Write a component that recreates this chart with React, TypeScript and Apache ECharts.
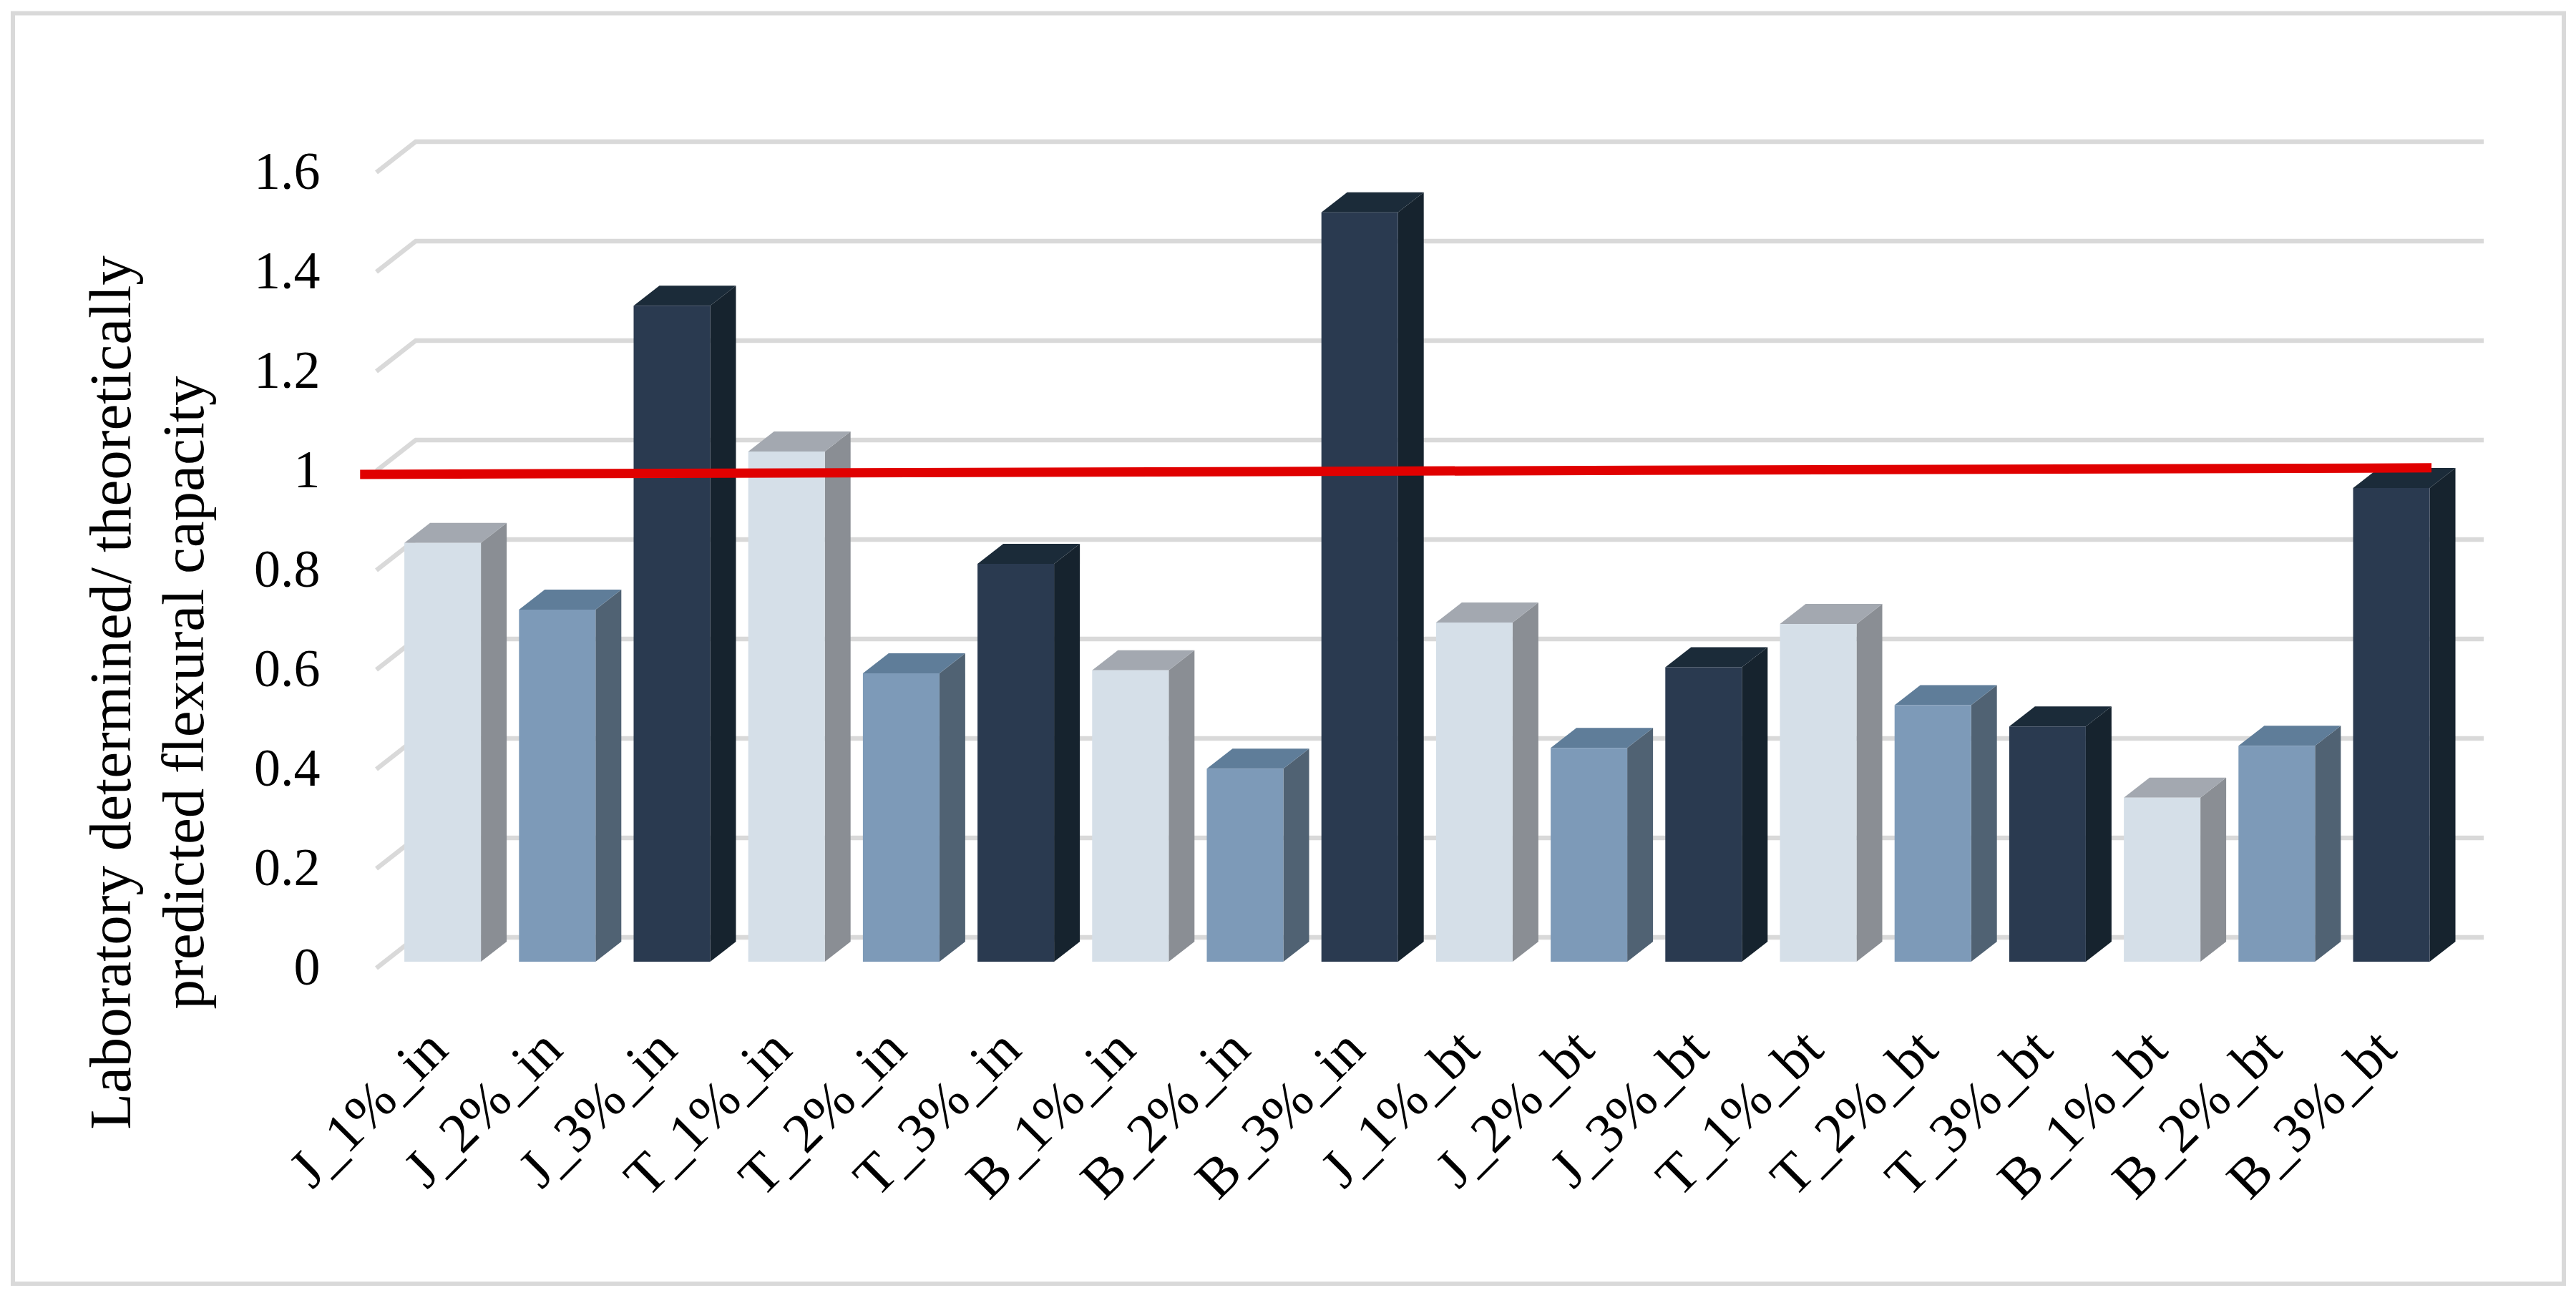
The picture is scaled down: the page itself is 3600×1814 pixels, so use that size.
import React, { useEffect, useRef } from "react";
import * as echarts from "echarts";

const categories = [
  "J_1%_in", "J_2%_in", "J_3%_in", "T_1%_in", "T_2%_in", "T_3%_in", "B_1%_in", "B_2%_in", "B_3%_in",
  "J_1%_bt", "J_2%_bt", "J_3%_bt", "T_1%_bt", "T_2%_bt", "T_3%_bt", "B_1%_bt", "B_2%_bt", "B_3%_bt",
];
const ratios = [
  0.842, 0.708, 1.319, 1.026, 0.58, 0.8, 0.586, 0.388, 1.507,
  0.682, 0.43, 0.592, 0.679, 0.516, 0.473, 0.33, 0.434, 0.9525,
];
const gridValues = [0, 0.2, 0.4, 0.6, 0.8, 1, 1.2, 1.4, 1.6];
const referenceLine = [-0.72, 0.98, 17.35, 0.993];
const axisTitle = "Laboratory determined/ theoretically\npredicted flexural capacity";

const frontColors = ["#d5dfe8", "#7d9ab8", "#2a3a50"];
const sideColors = ["#8a8e94", "#506273", "#16232e"];
const topColors = ["#a3a8b0", "#5f7d99", "#1b2b39"];

const FONT = "'Liberation Serif', serif";

export default function App() {
  const ref = useRef<HTMLDivElement>(null);
  useEffect(() => {
    document.body.style.margin = "0";
    const chart = echarts.init(ref.current!, undefined, { renderer: "svg" });
    chart.setOption({
      animation: false,
      backgroundColor: "#ffffff",
      grid: { left: 538.5, top: 232, width: 2883.6, height: 1112, containLabel: false },
      xAxis: [
        {
          type: "category",
          data: categories,
          axisLine: { show: false },
          axisTick: { show: false },
          splitLine: { show: false },
          axisLabel: {
            rotate: 45,
            interval: 0,
            margin: 116,
            fontFamily: FONT,
            fontSize: 78,
            color: "#000000",
            verticalAlign: "bottom",
            lineHeight: 22,
          },
        },
        { type: "value", min: -0.5, max: 17.5, show: false, splitLine: { show: false } },
      ],
      yAxis: {
        type: "value",
        min: 0,
        max: 1.6,
        interval: 0.2,
        axisLine: { show: false },
        axisTick: { show: false },
        splitLine: { show: false },
        axisLabel: {
          margin: 91,
          fontFamily: FONT,
          fontSize: 74,
          color: "#000000",
          verticalAlign: "top",
          lineHeight: 14,
          formatter: (v: number) => String(Math.round(v * 10) / 10),
        },
      },
      graphic: [
        {
          type: "rect",
          z: 0,
          shape: { x: 18, y: 18.5, width: 3565, height: 1775.5 },
          style: { fill: "none", stroke: "#d9d9d9", lineWidth: 6 },
        },
        {
          type: "text",
          x: 205,
          y: 968,
          rotation: Math.PI / 2,
          style: {
            text: axisTitle,
            fontFamily: FONT,
            fontSize: 83,
            lineHeight: 102,
            fill: "#000000",
            align: "center",
            verticalAlign: "middle",
          },
        },
      ],
      series: [
        {
          type: "custom",
          z: 1,
          silent: true,
          data: gridValues.map((v) => [0, v]),
          renderItem: (params: any, api: any) => {
            const cs = params.coordSys;
            const y = api.coord([0, api.value(1)])[1];
            return {
              type: "polyline",
              shape: {
                points: [
                  [cs.x - 12.5, y + 9],
                  [cs.x + 42.5, y - 34],
                  [cs.x + cs.width + 49, y - 34],
                ],
              },
              style: { fill: "none", stroke: "#d9d9d9", lineWidth: 6.5 },
            };
          },
        },
        {
          type: "custom",
          z: 2,
          silent: true,
          data: categories.map((_, i) => [i, ratios[i]]),
          renderItem: (params: any, api: any) => {
            const idx = params.dataIndex % 3;
            const [cx, yTop] = api.coord([api.value(0), api.value(1)]);
            const [, yBase] = api.coord([api.value(0), 0]);
            const w = 107;
            const dx = 36;
            const dy = 28;
            const x0 = cx - w / 2;
            const x1 = cx + w / 2;
            return {
              type: "group",
              children: [
                {
                  type: "polygon",
                  shape: { points: [[x1, yTop], [x1 + dx, yTop - dy], [x1 + dx, yBase - dy], [x1, yBase]] },
                  style: { fill: sideColors[idx] },
                },
                {
                  type: "polygon",
                  shape: { points: [[x0, yTop], [x0 + dx, yTop - dy], [x1 + dx, yTop - dy], [x1, yTop]] },
                  style: { fill: topColors[idx] },
                },
                {
                  type: "rect",
                  shape: { x: x0, y: yTop, width: w, height: yBase - yTop },
                  style: { fill: frontColors[idx] },
                },
              ],
            };
          },
        },
        {
          type: "custom",
          z: 3,
          silent: true,
          xAxisIndex: 1,
          data: [referenceLine],
          encode: { x: [0, 2], y: [1, 3] },
          renderItem: (_params: any, api: any) => {
            const a = api.coord([api.value(0), api.value(1)]);
            const b = api.coord([api.value(2), api.value(3)]);
            return {
              type: "line",
              shape: { x1: a[0], y1: a[1], x2: b[0], y2: b[1] },
              style: { stroke: "#e00000", lineWidth: 13 },
            };
          },
        },
      ],
    });
    return () => chart.dispose();
  }, []);
  return <div ref={ref} style={{ width: 3600, height: 1814 }} />;
}
